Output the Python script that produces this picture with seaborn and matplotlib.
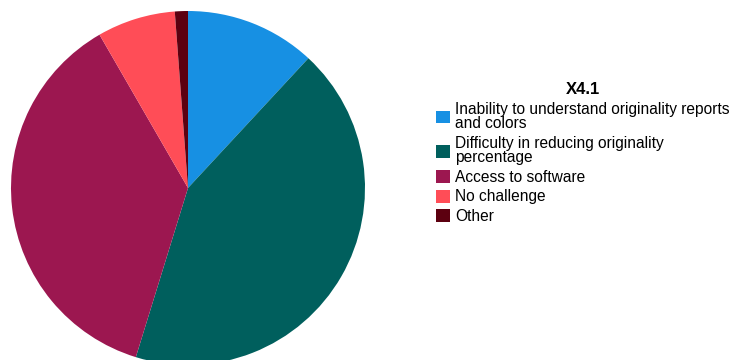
import matplotlib
matplotlib.use("Agg")
import matplotlib.pyplot as plt
import seaborn as sns

sns.set_theme(style="white")
plt.rcParams["font.family"] = ["Liberation Sans", "DejaVu Sans"]

# Responses to question X4.1
categories = [
    "Inability to understand originality reports\nand colors",
    "Difficulty in reducing originality\npercentage",
    "Access to software",
    "No challenge",
    "Other",
]
counts = [10, 36, 31, 6, 1]
colors = ["#1790e3", "#005f5d", "#9c1750", "#ff4d57", "#5c0010"]

fig = plt.figure(figsize=(7.35, 3.6), dpi=100)
ax = fig.add_axes([11 / 735, -5 / 360, 354 / 735, 354 / 360])

wedges, _ = ax.pie(
    counts,
    colors=colors,
    startangle=90,
    counterclock=False,
    radius=1.0,
    wedgeprops=dict(linewidth=0, antialiased=True),
)
ax.set_xlim(-1, 1)
ax.set_ylim(-1, 1)
ax.set_aspect("equal")
ax.axis("off")

leg = fig.legend(
    wedges,
    categories,
    title="X4.1",
    loc="upper left",
    bbox_to_anchor=(436 / 735, 1 - 82 / 360),
    frameon=False,
    fontsize=11.2,
    title_fontproperties=dict(weight="bold", size=12),
    handlelength=0.9,
    handleheight=0.9,
    handletextpad=0.33,
    labelspacing=0.3,
    borderaxespad=0,
    borderpad=0,
)
leg.get_title().set_color("black")
for t in leg.get_texts():
    t.set_linespacing(0.95)
    t.set_color("black")

fig.savefig("out.png", dpi=100)
